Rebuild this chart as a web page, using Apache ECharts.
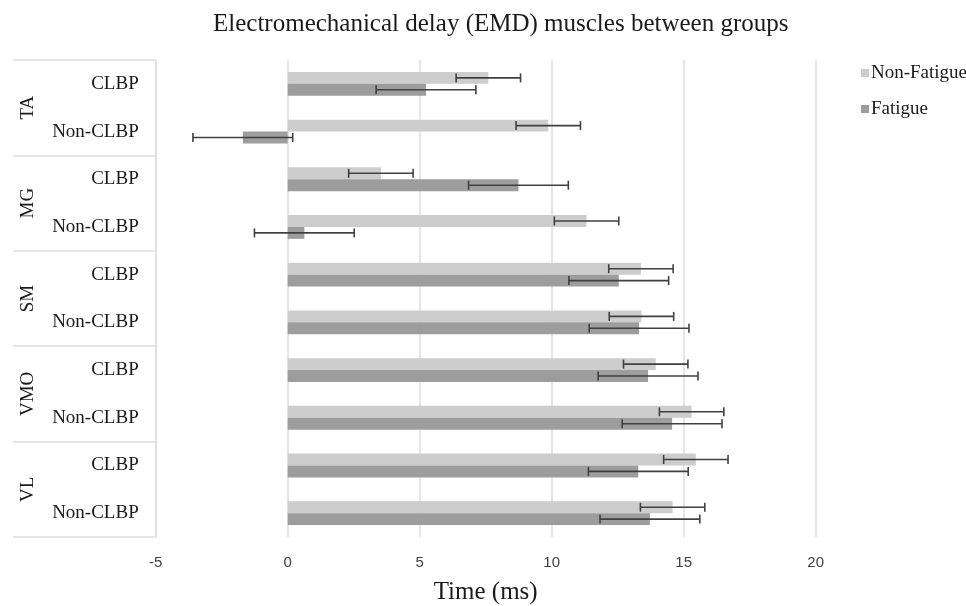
<!DOCTYPE html>
<html>
<head>
<meta charset="utf-8">
<title>EMD muscles between groups</title>
<script src="https://cdn.jsdelivr.net/npm/echarts@6/dist/echarts.min.js"></script>
<style>
  html, body { margin: 0; padding: 0; background: #fff; }
  #chart { width: 966px; height: 606px; }
</style>
</head>
<body>
<div id="chart"></div>
<script>
// muscle groups and the sub rows inside each group
const groups = ['TA', 'MG', 'SM', 'VMO', 'VL']
const subgroups = ['CLBP', 'Non-CLBP']
const xTicks = { min: -5, max: 20, step: 5 }

// mean EMD (ms), one value per row, top to bottom
const nonFatigue = [7.60, 9.87, 3.53, 11.32, 13.38, 13.40, 13.94, 15.30, 15.46, 14.58]
const fatigue = [5.24, -1.70, 8.74, 0.63, 12.54, 13.31, 13.65, 14.56, 13.28, 13.72]

// error bar half widths (ms)
const nonFatigueErr = [1.22, 1.22, 1.22, 1.22, 1.22, 1.22, 1.22, 1.22, 1.22, 1.22]
const fatigueErr = [1.89, 1.89, 1.89, 1.89, 1.89, 1.89, 1.89, 1.89, 1.89, 1.89]

const rows = []
groups.forEach(g => subgroups.forEach(s => rows.push(g + '|' + s)))

const serif = "'Liberation Serif', 'Times New Roman', serif"
const sans = "'Liberation Sans', Arial, sans-serif"
const gridColor = '#dedede'

const errData = (vals, errs) => vals.map((v, i) => [i, v - errs[i], v + errs[i]])

// draws one horizontal error bar with caps, shifted inside the band
const errorBar = (shift) => (params, api) => {
  const cat = api.value(0)
  const lo = api.coord([api.value(1), cat])
  const hi = api.coord([api.value(2), cat])
  const band = api.size([0, 1])[1]
  const y = lo[1] + shift * band
  const cap = 4.5
  const style = { stroke: '#404040', lineWidth: 1.6 }
  return {
    type: 'group',
    children: [
      { type: 'line', shape: { x1: lo[0], y1: y, x2: hi[0], y2: y }, style },
      { type: 'line', shape: { x1: lo[0], y1: y - cap, x2: lo[0], y2: y + cap }, style },
      { type: 'line', shape: { x1: hi[0], y1: y - cap, x2: hi[0], y2: y + cap }, style }
    ]
  }
}

const chart = echarts.init(document.getElementById('chart'), null, { renderer: 'canvas' })

const option = {
  animation: false,
  title: {
    text: 'Electromechanical delay (EMD) muscles between groups',
    left: 208,
    top: 7,
    textStyle: { fontFamily: serif, fontSize: 25, fontWeight: 'normal', color: '#1a1a1a' }
  },
  legend: {
    data: ['Non-Fatigue', 'Fatigue'],
    orient: 'vertical',
    left: 856,
    top: 58,
    itemWidth: 8,
    itemHeight: 8,
    itemGap: 16,
    icon: 'rect',
    textStyle: { fontFamily: serif, fontSize: 19, color: '#1a1a1a', lineHeight: 20, padding: [0, 0, 0, -3] }
  },
  grid: { left: 155.7, right: 150.3, top: 60, bottom: 69, outerBoundsMode: 'none' },
  xAxis: {
    type: 'value',
    min: xTicks.min,
    max: xTicks.max,
    interval: xTicks.step,
    axisLine: { show: false },
    axisTick: { show: false },
    splitLine: { lineStyle: { color: gridColor, width: 1.5 } },
    axisLabel: { fontFamily: sans, fontSize: 15, color: '#404040', margin: 18 },
    name: 'Time (ms)',
    nameLocation: 'middle',
    nameGap: 43,
    nameTextStyle: { fontFamily: serif, fontSize: 25, color: '#1a1a1a' }
  },
  yAxis: [
    {
      type: 'category',
      data: rows,
      inverse: true,
      axisLine: { show: false },
      axisTick: { show: false },
      axisLabel: {
        fontFamily: serif,
        fontSize: 19,
        color: '#1a1a1a',
        margin: 17,
        formatter: v => v.split('|')[1]
      }
    },
    {
      type: 'category',
      data: groups,
      inverse: true,
      position: 'left',
      axisLine: { show: true, lineStyle: { color: gridColor, width: 1.5 } },
      axisTick: { show: true, interval: 0, length: 142.7, lineStyle: { color: gridColor, width: 1.5 } },
      axisLabel: {
        fontFamily: serif,
        fontSize: 19,
        color: '#1a1a1a',
        rotate: 90,
        align: 'center',
        verticalAlign: 'middle',
        margin: 128
      }
    }
  ],
  series: [
    {
      name: 'Non-Fatigue',
      type: 'bar',
      data: nonFatigue,
      barGap: '0%',
      barCategoryGap: '50%',
      itemStyle: { color: '#cdcdcd' }
    },
    {
      name: 'Fatigue',
      type: 'bar',
      data: fatigue,
      barGap: '0%',
      barCategoryGap: '50%',
      itemStyle: { color: '#9c9d9c' }
    },
    {
      name: 'Non-Fatigue err',
      type: 'custom',
      renderItem: errorBar(-0.125),
      encode: { x: [1, 2], y: 0 },
      data: errData(nonFatigue, nonFatigueErr),
      z: 5
    },
    {
      name: 'Fatigue err',
      type: 'custom',
      renderItem: errorBar(0.125),
      encode: { x: [1, 2], y: 0 },
      data: errData(fatigue, fatigueErr),
      z: 5
    }
  ]
}

chart.setOption(option)
window.addEventListener('resize', () => chart.resize())
</script>
</body>
</html>
